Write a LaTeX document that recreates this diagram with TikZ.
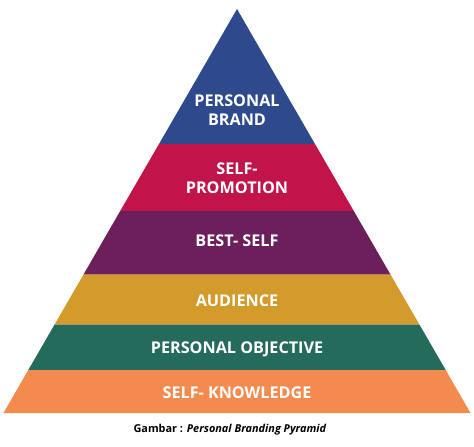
\documentclass[tikz,border=0pt]{standalone}
\usepackage{fontspec}
\setmainfont{Open Sans}
\usepackage{tikz}
\usetikzlibrary{positioning}
\definecolor{Biru}{HTML}{2E4A8C}
\definecolor{Merah}{HTML}{C0144A}
\definecolor{Ungu}{HTML}{6D1F5B}
\definecolor{Emas}{HTML}{D39B2B}
\definecolor{Hijau}{HTML}{246B5B}
\definecolor{Jingga}{HTML}{F38B4F}

\begin{document}
\begin{tikzpicture}[
  x=1pt,y=-1pt,
  lapis/.style={font=\bfseries\fontsize{16.2}{18.5}\selectfont,text=white,align=center,inner sep=0pt},
  keterangan/.style={font=\bfseries\fontsize{10.9}{12}\selectfont,inner sep=0pt}
]
  \useasboundingbox[fill=white] (0,0) rectangle (474,447);

  % lapisan piramida, dari puncak ke dasar
  \fill[Biru]   (237,9) -- (315.0,144) -- (159.0,144) -- cycle;
  \fill[Merah]  (159.0,144) -- (315.0,144) -- (353.8,211) -- (120.2,211) -- cycle;
  \fill[Ungu]   (120.2,211) -- (353.8,211) -- (390.5,274.5) -- (83.5,274.5) -- cycle;
  \fill[Emas]   (83.5,274.5) -- (390.5,274.5) -- (419.4,324.5) -- (54.6,324.5) -- cycle;
  \fill[Hijau]  (54.6,324.5) -- (419.4,324.5) -- (445.7,370) -- (28.3,370) -- cycle;
  \fill[Jingga] (28.3,370) -- (445.7,370) -- (470.5,413) -- (3.5,413) -- cycle;

  \node[lapis] (brand) at (237,110) {PERSONAL\\BRAND};
  \node[lapis] (promosi) at (237,178) {SELF-\\PROMOTION};
  \node[lapis] (best) at (237,241) {BEST- SELF};
  \node[lapis] (audiens) at (237,301) {AUDIENCE};
  \node[lapis] (objektif) at (237,349) {PERSONAL OBJECTIVE};
  \node[lapis] (pengetahuan) at (237,393) {SELF- KNOWLEDGE};

  \node[keterangan] (gambar) at (230,430) {Gambar : \textit{Personal Branding Pyramid}};
\end{tikzpicture}
\end{document}
